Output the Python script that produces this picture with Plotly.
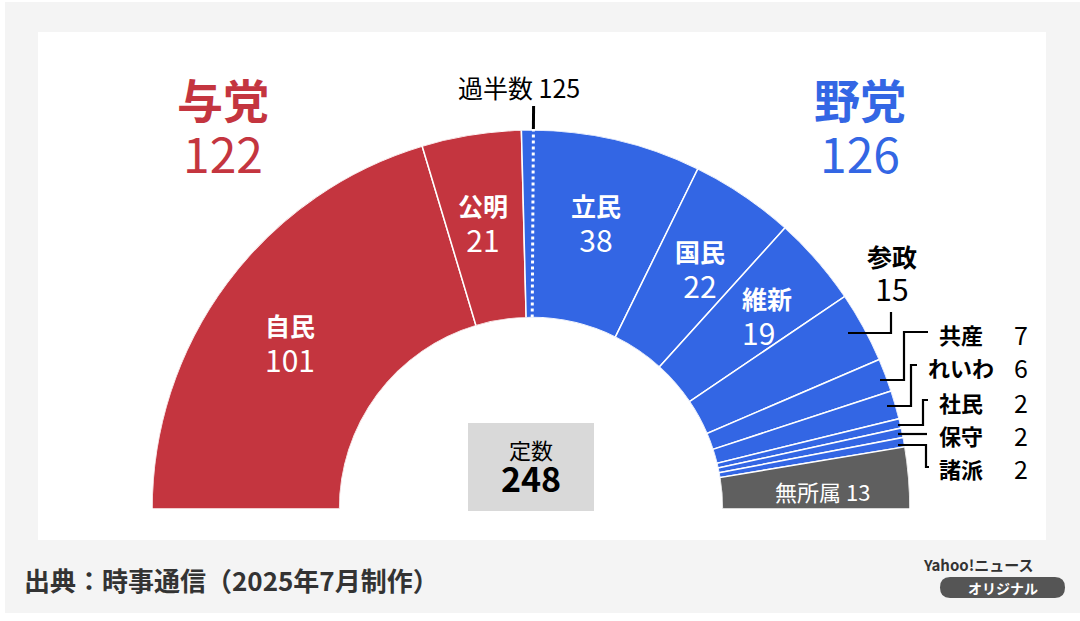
import math
import plotly.graph_objects as go

# ---------------- data ----------------
parties = ["自民", "公明", "立民", "国民", "維新", "参政", "共産", "れいわ", "社民", "保守", "諸派", "無所属"]
seats = [101, 21, 38, 22, 19, 15, 7, 6, 2, 2, 2, 13]
blocs = ["与党", "与党", "野党", "野党", "野党", "野党", "野党", "野党", "野党", "野党", "野党", "無所属"]
bloc_totals = {"与党": 122, "野党": 126}
total_seats = 248
majority = 125

RED = "#c4353f"
BLUE = "#3366e4"
GRAY = "#5f5f5f"
bloc_colors = {"与党": RED, "野党": BLUE, "無所属": GRAY}
FONT = "Noto Sans CJK JP"

W, H = 1080, 621
PX0, PX1, PBOT, PTOP = 152, 910, 509, 130  # polar domain in pixels

# angles (theta: 0 = left end, 180 = right end)
scale = 180.0 / total_seats
theta_c, widths = [], []
cum = 0
for s in seats:
    theta_c.append((cum + s / 2) * scale)
    widths.append(s * scale)
    cum += s

fig = go.Figure()

# overlay cartesian axes in pixel units for decoration
fig.add_trace(go.Scatter(x=[0, W], y=[0, H], mode="markers", marker=dict(opacity=0),
                         hoverinfo="skip", showlegend=False))

fig.add_trace(go.Barpolar(
    r=[1] * len(seats), theta=theta_c, width=widths,
    marker=dict(color=[bloc_colors[b] for b in blocs], line=dict(color="white", width=1.5)),
    hoverinfo="skip", showlegend=False,
))

# majority dotted line
maj_theta = (majority - 0.5) * scale
fig.add_trace(go.Scatterpolar(r=[0.0, 1.0], theta=[maj_theta, maj_theta], mode="lines",
                              line=dict(color="white", width=3, dash="dot"),
                              hoverinfo="skip", showlegend=False))

# majority tick above the arc (pixel space, from same geometry)
cx = (PX0 + PX1) / 2
R = (PX1 - PX0) / 2
phi = math.radians(180 - maj_theta)
r0, r1 = R + 1, R + 24
tick_path = (f"M {cx + r0 * math.cos(phi):.1f} {PBOT - r0 * math.sin(phi):.1f} "
             f"L {cx + r1 * math.cos(phi):.1f} {PBOT - r1 * math.sin(phi):.1f}")

shapes = [
    dict(type="rect", xref="paper", yref="paper", x0=5 / W, x1=1, y0=1 - 613 / H, y1=1 - 2 / H,
         fillcolor="#f4f4f4", line=dict(width=0), layer="below"),
    dict(type="rect", xref="paper", yref="paper", x0=38 / W, x1=1046 / W, y0=1 - 540 / H, y1=1 - 32 / H,
         fillcolor="white", line=dict(width=0), layer="below"),
    dict(type="path", xref="x", yref="y", path=tick_path, line=dict(color="black", width=3), layer="above"),
    # 定数 box
    dict(type="rect", xref="x", yref="y", x0=468, x1=594, y0=423, y1=511,
         fillcolor="#d9d9d9", line=dict(width=0), layer="above"),
    # badge
    dict(type="path", xref="x", yref="y",
         path="M 950 577 L 1055 577 Q 1065 577 1065 587.5 Q 1065 598 1055 598 L 950 598 Q 940 598 940 587.5 Q 940 577 950 577 Z",
         fillcolor="#555555", line=dict(width=0), layer="above"),
]

leaders = [
    [(848, 333), (891, 333), (891, 312)],                 # 参政
    [(880, 380), (904, 380), (904, 332), (928, 332)],     # 共産
    [(887, 406), (911, 406), (911, 365), (917, 365)],     # れいわ
    [(898, 425), (923, 425), (923, 400), (928, 400)],     # 社民
    [(898, 434), (927, 434)],                             # 保守
    [(898, 445), (926, 445), (926, 467), (929, 467)],     # 諸派
]
for pts in leaders:
    path = "M " + " L ".join(f"{x} {y}" for x, y in pts)
    shapes.append(dict(type="path", xref="x", yref="y", path=path,
                       line=dict(color="black", width=2.2), layer="above"))

ann = []


def t(x, y, text, size, color="black", bold=False, xanchor="center"):
    ann.append(dict(x=x, y=y, xref="x", yref="y", text=f"<b>{text}</b>" if bold else text,
                    showarrow=False, xanchor=xanchor, yanchor="middle",
                    font=dict(family=FONT, size=size, color=color)))


def two(x, y, top, bottom, base, s_top, s_bot, color, xanchor="center"):
    text = (f"<span style='font-size:{s_top}px'><b>{top}</b></span><br>"
            f"<span style='font-size:{s_bot}px'>{bottom}</span>")
    ann.append(dict(x=x, y=y, xref="x", yref="y", text=text, showarrow=False,
                    xanchor=xanchor, yanchor="middle", align=xanchor if xanchor != "center" else "center",
                    font=dict(family=FONT, size=base, color=color)))


# bloc headers
two(223, 126, "与党", bloc_totals["与党"], 42, 46, 48, RED)
two(860, 126, "野党", bloc_totals["野党"], 42, 46, 48, BLUE)

t(519, 87, f"過半数 {majority}", 25)

# inside labels (y = midpoint between name and number)
inside = {"自民": (290, 344, "center"), "公明": (483, 224, "center"),
          "立民": (596, 224, "center"), "国民": (700, 270, "center"),
          "維新": (740, 317, "left")}
for p, (x, y, xa) in inside.items():
    i = parties.index(p)
    two(x, y, p, seats[i], 28, 25, 30, "white", xa)

# 参政
i = parties.index("参政")
two(892, 274, parties[i], seats[i], 26, 25, 30, "black")

small = {"共産": 334, "れいわ": 367, "社民": 402, "保守": 435, "諸派": 468}
for p, y in small.items():
    i = parties.index(p)
    t(961, y, p, 22, "black", True)
    t(1021, y, str(seats[i]), 25)

i = parties.index("無所属")
t(822, 491, f"{parties[i]} {seats[i]}", 22, "white")

two(531, 467, "定数", total_seats, 25, 22, 34, "black")
# make the number bold in the box
ann[-1]["text"] = "<span style='font-size:22px'>定数</span><br><span style='font-size:34px'><b>%d</b></span>" % total_seats

t(22, 579, "出典：時事通信（2025年7月制作）", 26, "#333333", True, "left")
t(1036, 564, "Yahoo!ニュース", 15, "#333333", True, "right")
t(1003, 588, "オリジナル", 14, "white", True)

fig.update_layout(
    width=W, height=H, margin=dict(l=0, r=0, t=0, b=0),
    paper_bgcolor="white", plot_bgcolor="rgba(0,0,0,0)",
    showlegend=False,
    xaxis=dict(range=[0, W], visible=False, domain=[0, 1], fixedrange=True),
    yaxis=dict(range=[H, 0], visible=False, domain=[0, 1], fixedrange=True),
    polar=dict(
        domain=dict(x=[PX0 / W, PX1 / W], y=[1 - PBOT / H, 1 - PTOP / H]),
        sector=[0, 180], hole=0.505, bgcolor="rgba(0,0,0,0)",
        radialaxis=dict(range=[0, 1], visible=False, showgrid=False),
        angularaxis=dict(rotation=180, direction="clockwise", visible=False, showgrid=False),
        bargap=0,
    ),
    shapes=shapes, annotations=ann,
)

fig.write_html("out.html")
